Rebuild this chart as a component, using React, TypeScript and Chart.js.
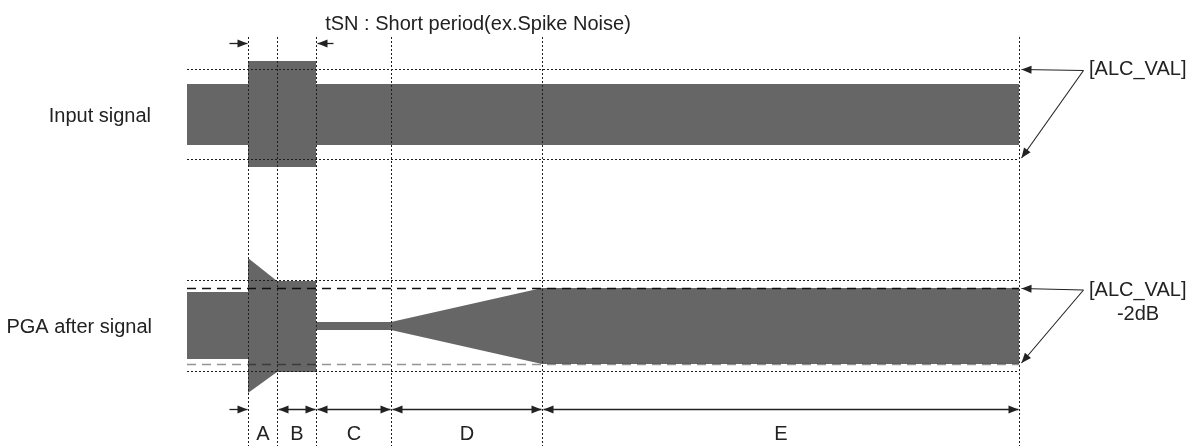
import React, { useEffect, useRef } from 'react';
import { Chart, registerables } from 'chart.js';

Chart.register(...registerables);

const W = 1202;
const H = 446;

// ---- data (time in arbitrary units, amplitude in arbitrary units) ----
const phaseLabels = ['A', 'B', 'C', 'D', 'E'];
const phaseBounds = [61, 90, 129, 204, 355, 832];

const inputTimes = [0, 61, 61, 129, 129, 832];
const inputUpper = [30, 30, 53, 53, 30, 30];
const inputLower = [-31, -31, -53, -53, -31, -31];
const inputAlc = [44.5, -45.5];

const pgaTimes = [0, 61, 61, 90, 129, 129, 204, 355, 832];
const pgaUpper = [34, 34, 68, 45, 45, 4, 4, 38, 38];
const pgaLower = [-33, -33, -67, -46, -46, -4, -4, -38, -38];
const pgaAlc = [45.5, -45.5];
const pgaAlcMinus2 = [37.5, -38.5];

const titleText = 'tSN : Short period(ex.Spike Noise)';
const rowLabels = ['Input signal', 'PGA after signal'];
const alcLabel = '[ALC_VAL]';
const alcMinusLabel = '-2dB';

// ---- layout ----
const X_ORIGIN = 187;
const IN_ROW = 114;
const PGA_ROW = 326;
const FONT = '20px "Liberation Sans", Arial, sans-serif';
const INK = '#222';
const GUIDE = '#1e1e1e';
const FILL = '#666666';

const pts = (ts: number[], vs: number[]) => ts.map((t, i) => ({ x: t, y: vs[i] }));
const span = (v: number) => [{ x: 0, y: v }, { x: phaseBounds[phaseBounds.length - 1], y: v }];

function drawArrow(ctx: CanvasRenderingContext2D, x1: number, y1: number, x2: number, y2: number, startHead: boolean, endHead: boolean) {
  const a = Math.atan2(y2 - y1, x2 - x1);
  const L = 10, Wd = 4;
  ctx.beginPath();
  ctx.moveTo(x1, y1);
  ctx.lineTo(x2, y2);
  ctx.stroke();
  const head = (tx: number, ty: number, ang: number) => {
    ctx.beginPath();
    ctx.moveTo(tx, ty);
    ctx.lineTo(tx - L * Math.cos(ang) + Wd * Math.sin(ang), ty - L * Math.sin(ang) - Wd * Math.cos(ang));
    ctx.lineTo(tx - L * Math.cos(ang) - Wd * Math.sin(ang), ty - L * Math.sin(ang) + Wd * Math.cos(ang));
    ctx.closePath();
    ctx.fill();
  };
  if (endHead) head(x2, y2, a);
  if (startHead) head(x1, y1, a + Math.PI);
}

const overlay = {
  id: 'overlay',
  afterDatasetsDraw(chart: any) {
    const ctx: CanvasRenderingContext2D = chart.ctx;
    const xs = chart.scales.x;
    const yIn = chart.scales.yIn;
    const yPga = chart.scales.yPga;
    const px = (t: number) => Math.round(xs.getPixelForValue(t)) + 0.5;
    ctx.save();

    // vertical phase guides
    ctx.strokeStyle = GUIDE;
    ctx.lineWidth = 1;
    ctx.setLineDash([2, 2]);
    phaseBounds.forEach((t) => {
      ctx.beginPath();
      ctx.moveTo(px(t), 37);
      ctx.lineTo(px(t), H);
      ctx.stroke();
    });
    ctx.setLineDash([]);

    // arrows
    ctx.strokeStyle = INK;
    ctx.fillStyle = INK;
    ctx.lineWidth = 1.3;
    const aX = px(phaseBounds[0]);
    const cX = px(phaseBounds[2]);
    drawArrow(ctx, aX - 19, 43.5, aX - 1, 43.5, false, true);
    drawArrow(ctx, cX + 17, 43.5, cX + 1, 43.5, false, true);

    const yb = 409.5;
    drawArrow(ctx, aX - 19, yb, aX - 1, yb, false, true);
    for (let i = 1; i < phaseBounds.length - 1; i++) {
      drawArrow(ctx, px(phaseBounds[i]) + 1, yb, px(phaseBounds[i + 1]) - 1, yb, true, true);
    }

    ctx.lineWidth = 1.1;
    const endX = px(phaseBounds[phaseBounds.length - 1]);
    const s1y = yIn.getPixelForValue(inputAlc[0]) + 1;
    drawArrow(ctx, endX + 64, s1y, endX + 2, yIn.getPixelForValue(inputAlc[0]), false, true);
    drawArrow(ctx, endX + 64, s1y, endX + 2, yIn.getPixelForValue(inputAlc[1]) - 1.5, false, true);
    const s2y = yPga.getPixelForValue(pgaAlcMinus2[0]) + 1.5;
    drawArrow(ctx, endX + 64, s2y, endX + 2, yPga.getPixelForValue(pgaAlcMinus2[0]), false, true);
    drawArrow(ctx, endX + 64, s2y, endX + 2, yPga.getPixelForValue(pgaAlcMinus2[1]) - 1.5, false, true);

    // texts
    ctx.font = FONT;
    ctx.fillStyle = INK;
    ctx.textBaseline = 'alphabetic';
    ctx.textAlign = 'center';
    ctx.fillText(titleText, 478, 30);
    for (let i = 0; i < phaseLabels.length; i++) {
      const mid = (px(phaseBounds[i]) + px(phaseBounds[i + 1])) / 2;
      ctx.fillText(phaseLabels[i], mid, 440);
    }
    ctx.fillText(alcMinusLabel, 1138, 320);
    ctx.textAlign = 'right';
    ctx.fillText(rowLabels[0], 151, IN_ROW + 8);
    ctx.fillText(rowLabels[1], 152, PGA_ROW + 7);
    ctx.textAlign = 'left';
    ctx.fillText(alcLabel, 1089, 75);
    ctx.fillText(alcLabel, 1089, 296);

    ctx.restore();
  },
};

export default function App() {
  const ref = useRef<HTMLCanvasElement | null>(null);

  useEffect(() => {
    if (!ref.current) return;
    const fillDs = (data: any[], axis: string) => ({
      data,
      yAxisID: axis,
      fill: 'origin',
      backgroundColor: FILL,
      borderColor: 'rgba(0,0,0,0)',
      borderWidth: 0,
      pointRadius: 0,
      tension: 0,
      order: 3,
    });
    const lineDs = (data: any[], axis: string, color: string, dash: number[], width = 1) => ({
      data,
      yAxisID: axis,
      fill: false,
      borderColor: color,
      borderWidth: width,
      borderDash: dash,
      pointRadius: 0,
      tension: 0,
      order: 1,
    });

    const chart = new Chart(ref.current, {
      type: 'line',
      data: {
        datasets: [
          lineDs(span(inputAlc[0]), 'yIn', GUIDE, [2, 2]),
          lineDs(span(inputAlc[1]), 'yIn', GUIDE, [2, 2]),
          lineDs(span(pgaAlc[0]), 'yPga', GUIDE, [2, 2]),
          lineDs(span(pgaAlc[1]), 'yPga', GUIDE, [2, 2]),
          lineDs(span(pgaAlcMinus2[0]), 'yPga', '#111', [9, 6], 1.3),
          lineDs(span(pgaAlcMinus2[1]), 'yPga', 'rgba(0,0,0,0.42)', [9, 6], 1.3),
          fillDs(pts(inputTimes, inputUpper), 'yIn'),
          fillDs(pts(inputTimes, inputLower), 'yIn'),
          fillDs(pts(pgaTimes, pgaUpper), 'yPga'),
          fillDs(pts(pgaTimes, pgaLower), 'yPga'),
        ] as any,
      },
      options: {
        animation: false,
        responsive: false,
        devicePixelRatio: 1,
        layout: { padding: 0 },
        events: [],
        plugins: {
          legend: { display: false },
          title: { display: false },
          tooltip: { enabled: false },
        },
        scales: {
          x: { type: 'linear', min: -X_ORIGIN, max: W - X_ORIGIN, display: false },
          yIn: { type: 'linear', position: 'left', min: IN_ROW - H, max: IN_ROW, display: false },
          yPga: { type: 'linear', position: 'left', min: PGA_ROW - H, max: PGA_ROW, display: false },
        },
      } as any,
      plugins: [overlay],
    });
    return () => chart.destroy();
  }, []);

  return (
    <div style={{ position: 'absolute', left: 0, top: 0, width: W, height: H, background: '#fff' }}>
      <canvas ref={ref} width={W} height={H} style={{ display: 'block', width: W, height: H }} />
    </div>
  );
}
